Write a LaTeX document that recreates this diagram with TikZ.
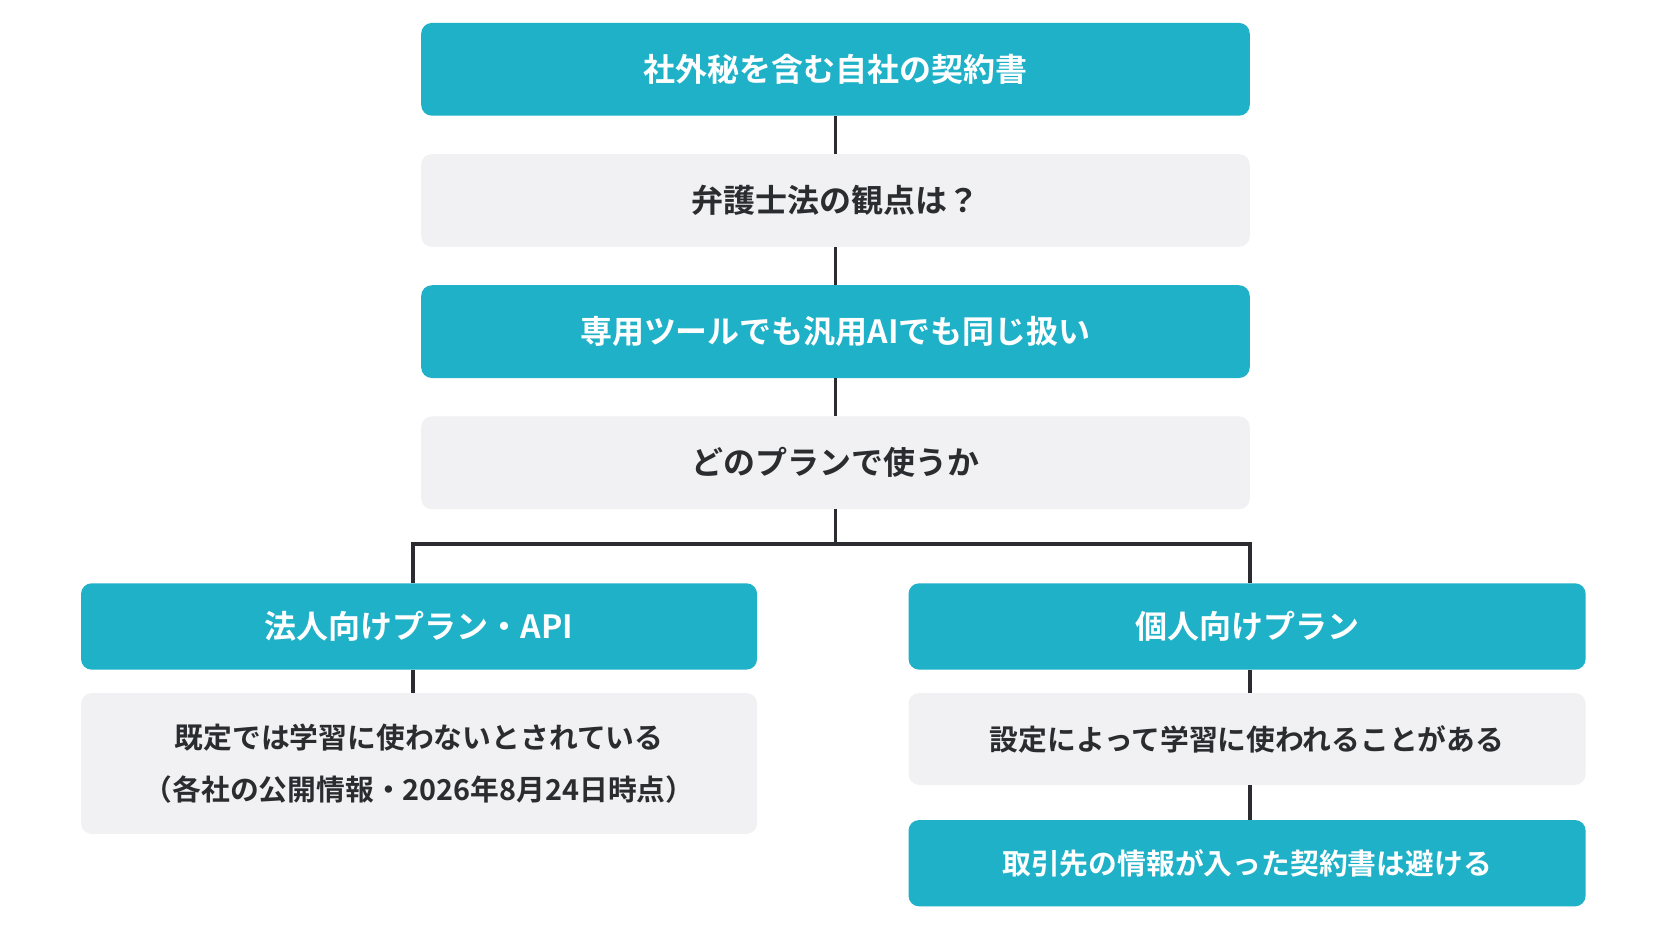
\documentclass[tikz,border=0pt]{standalone}
\usepackage{fontspec}
\setmainfont{Noto Sans CJK JP}[BoldFont={* Bold}]
\definecolor{teal1}{HTML}{1EB1C8}
\definecolor{gray1}{HTML}{F1F1F3}
\definecolor{ink}{HTML}{2A2C30}
\begin{document}
\begin{tikzpicture}[x=1pt,y=-1pt,
 box/.style={rounded corners=10pt,inner sep=0pt,font=\bfseries\fontsize{30}{40}\selectfont,align=center},
 tb/.style={box,fill=teal1,text=white},
 gb/.style={box,fill=gray1,text=ink},
 ln/.style={line width=3.5pt,ink}]
\fill[white] (0,0) rectangle (1568,882);
\useasboundingbox (0,0) rectangle (1568,882);
\node[tb,minimum width=777pt,minimum height=87pt] (a) at (783.5,65) {社外秘を含む自社の契約書};
\node[gb,minimum width=777pt,minimum height=87pt] (b) at (783.5,188) {弁護士法の観点は？};
\node[tb,minimum width=777pt,minimum height=87pt] (c) at (783.5,311) {専用ツールでも汎用AIでも同じ扱い};
\node[gb,minimum width=777pt,minimum height=87pt] (d) at (783.5,434) {どのプランで使うか};
\node[tb,minimum width=634pt,minimum height=81pt] (e) at (393,587.5) {法人向けプラン・API};
\node[gb,minimum width=634pt,minimum height=132pt,font=\bfseries\fontsize{27}{49}\selectfont] (f) at (393,716) {既定では学習に使わないとされている\\（各社の公開情報・2026年8月24日時点）};
\node[tb,minimum width=635pt,minimum height=81pt] (g) at (1169.5,587.5) {個人向けプラン};
\node[gb,minimum width=635pt,minimum height=86pt,font=\bfseries\fontsize{27}{36}\selectfont] (h) at (1169.5,693) {設定によって学習に使われることがある};
\node[tb,minimum width=635pt,minimum height=81pt,font=\bfseries\fontsize{27}{36}\selectfont] (i) at (1169.5,809.5) {取引先の情報が入った契約書は避ける};
\coordinate (j) at (783.5,510);
\draw[ln] (a) -- (b);
\draw[ln] (b) -- (c);
\draw[ln] (c) -- (d);
\draw[ln] (d) -- (j);
\draw[ln] (e.north -| 387,0) |- (j) -| (g.north -| 1172,0);
\draw[ln] (e.south -| 387,0) -- (f.north -| 387,0);
\draw[ln] (g.south -| 1172,0) -- (h.north -| 1172,0);
\draw[ln] (h.south -| 1172,0) -- (i.north -| 1172,0);
\end{tikzpicture}
\end{document}
